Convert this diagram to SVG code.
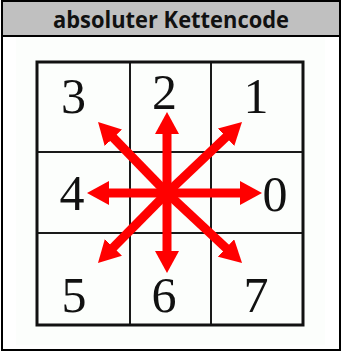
<svg xmlns="http://www.w3.org/2000/svg" width="342" height="352" viewBox="0 0 342 352">
  <style>
    .frame { fill: none; stroke: #000; stroke-width: 2; }
    .cell rect { fill: none; stroke: #1a1a1a; stroke-width: 2; }
    .cell text { font-family: "Liberation Serif", "Times New Roman", serif; font-size: 50px; fill: #111; text-anchor: middle; }
    .title { font-family: "Open Sans", "Liberation Sans", Arial, sans-serif; font-weight: bold; font-size: 23px; fill: #111; text-anchor: middle; }
    .arrow { stroke: #ff0000; stroke-width: 9; stroke-linecap: butt; fill: none; marker-end: url(#head); }
  </style>
  <defs>
    <marker id="head" viewBox="0 0 22 24" refX="11" refY="12" markerWidth="22" markerHeight="24" markerUnits="userSpaceOnUse" orient="auto">
      <path d="M0,0 L22,12 L0,24 z" fill="#ff0000"/>
    </marker>
  </defs>
  <rect x="0" y="0" width="342" height="352" fill="#ffffff"/>
  <g id="header">
    <rect x="2" y="1" width="338" height="35" fill="#c0c0c0"/>
    <line x1="2" y1="36" x2="340" y2="36" stroke="#000" stroke-width="2"/>
    <text class="title" x="171" y="28" textLength="236" lengthAdjust="spacingAndGlyphs">absoluter Kettencode</text>
  </g>
  <rect x="16" y="37" width="309" height="308" fill="#fcfefc"/>
  <rect class="frame" x="2" y="1" width="338" height="349"/>

  <g id="cell-3" class="cell"><rect x="37" y="62" width="93" height="90"/><text x="73.5" y="113">3</text></g>
  <g id="cell-2" class="cell"><rect x="130" y="62" width="81" height="90"/><text x="164.5" y="109">2</text></g>
  <g id="cell-1" class="cell"><rect x="211" y="62" width="92" height="90"/><text x="256" y="113">1</text></g>
  <g id="cell-4" class="cell"><rect x="37" y="152" width="93" height="81"/><text x="72" y="210">4</text></g>
  <g id="cell-center" class="cell"><rect x="130" y="152" width="81" height="81"/></g>
  <g id="cell-0" class="cell"><rect x="211" y="152" width="92" height="81"/><text x="275" y="211">0</text></g>
  <g id="cell-5" class="cell"><rect x="37" y="233" width="93" height="92"/><text x="74" y="312">5</text></g>
  <g id="cell-6" class="cell"><rect x="130" y="233" width="81" height="92"/><text x="164" y="312">6</text></g>
  <g id="cell-7" class="cell"><rect x="211" y="233" width="92" height="92"/><text x="256" y="312">7</text></g>
  <rect x="37" y="62" width="266" height="263" fill="none" stroke="#111" stroke-width="3"/>

  <g id="connectors">
    <line class="arrow" x1="167" y1="193" x2="251" y2="193"/>
    <line class="arrow" x1="167" y1="193" x2="98" y2="193"/>
    <line class="arrow" x1="167" y1="193" x2="167" y2="123"/>
    <line class="arrow" x1="167" y1="193" x2="167" y2="262"/>
    <line class="arrow" x1="167" y1="193" x2="234" y2="129.6"/>
    <line class="arrow" x1="167" y1="193" x2="105.7" y2="129.9"/>
    <line class="arrow" x1="167" y1="193" x2="105.7" y2="255.2"/>
    <line class="arrow" x1="167" y1="193" x2="234" y2="255.5"/>
  </g>
</svg>
